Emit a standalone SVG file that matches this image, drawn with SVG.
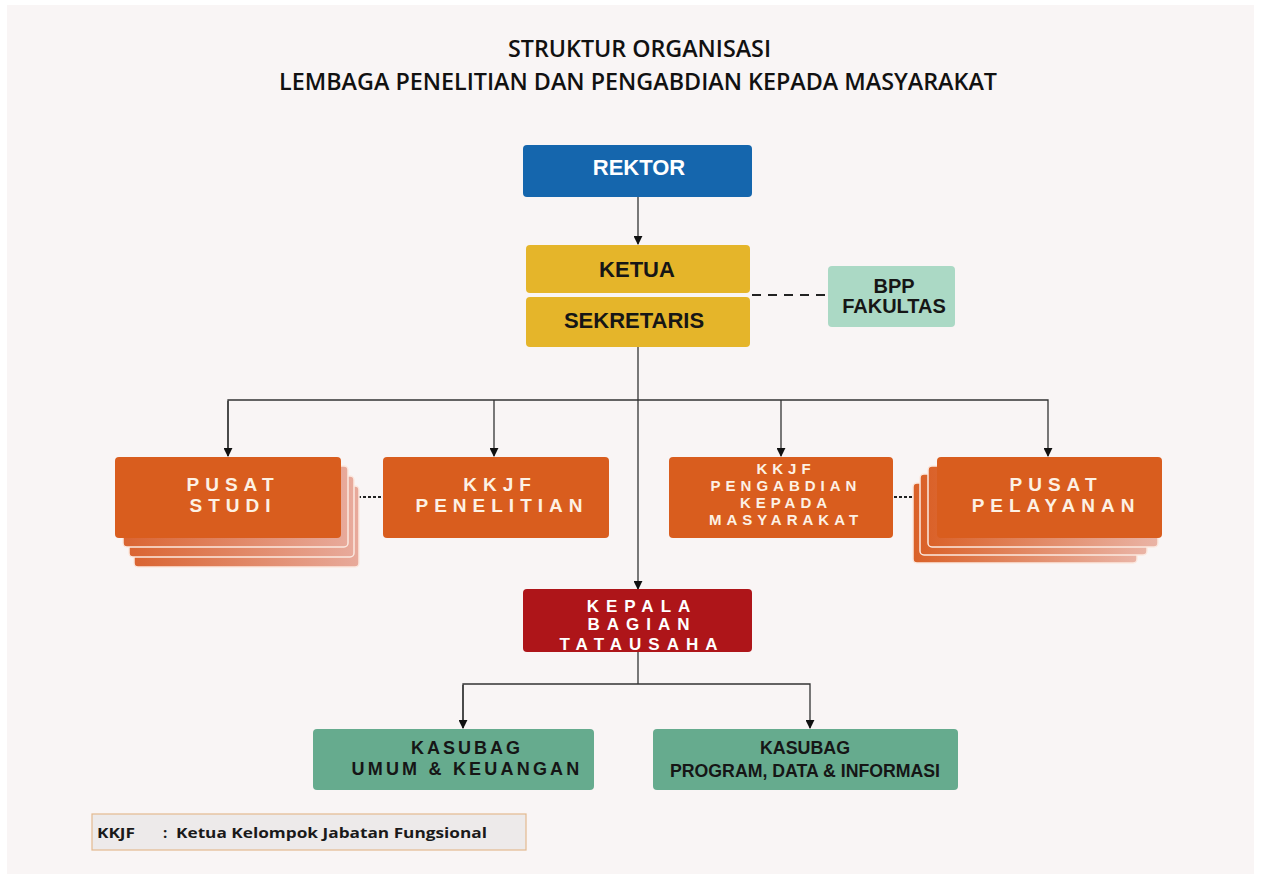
<svg xmlns="http://www.w3.org/2000/svg" width="1261" height="879" viewBox="0 0 1261 879">
  <defs>
    <style>
      .title { font-family: "Open Sans", "Liberation Sans", sans-serif; font-weight: 600; font-size: 23px; fill: #111; }
      .box-blue { fill: #1566ad; }
      .box-gold { fill: #e5b52a; }
      .box-mint { fill: #abd9c5; }
      .box-orange { fill: #d95d1e; }
      .box-red { fill: #ae1519; }
      .box-green { fill: #66ab8e; }
      .lbl { font-family: "Liberation Sans", Arial, sans-serif; font-weight: bold; text-anchor: middle; }
      .lbl-light { fill: #fdf1e4; }
      .lbl-white { fill: #ffffff; }
      .lbl-dark { fill: #161616; }
      .spaced { letter-spacing: 6px; }
      .conn { fill: none; stroke: #333; stroke-width: 1.3; }
      .dash { fill: none; stroke: #222; stroke-width: 2; stroke-dasharray: 9 7; }
      .dot { fill: none; stroke: #222; stroke-width: 2; stroke-dasharray: 3 2; }
      .layer { stroke: #fbe9e0; stroke-width: 1.5; }
      .legend { font-family: "Open Sans", "Liberation Sans", sans-serif; font-weight: bold; font-size: 15px; fill: #1a1a1a; }
    </style>
    <marker id="arrow" viewBox="0 0 10 10" refX="9" refY="5" markerWidth="9" markerHeight="9" markerUnits="userSpaceOnUse" orient="auto">
      <path d="M0,0 L10,5 L0,10 z" fill="#111"/>
    </marker>
    <linearGradient id="stackL" x1="0" y1="0" x2="1" y2="0">
      <stop offset="0" stop-color="#da6431"/>
      <stop offset="1" stop-color="#e8aa9b"/>
    </linearGradient>
    <linearGradient id="stackR" x1="0" y1="0" x2="1" y2="0">
      <stop offset="0" stop-color="#da6128"/>
      <stop offset="1" stop-color="#eab4a6"/>
    </linearGradient>
  </defs>

  <!-- page -->
  <rect x="0" y="0" width="1261" height="879" fill="#ffffff"/>
  <rect x="7" y="5" width="1247" height="869" fill="#f9f5f5"/>

  <!-- heading -->
  <text class="title" x="639.5" y="57" text-anchor="middle" textLength="263" lengthAdjust="spacingAndGlyphs">STRUKTUR ORGANISASI</text>
  <text class="title" x="638" y="90" text-anchor="middle" textLength="718" lengthAdjust="spacingAndGlyphs">LEMBAGA PENELITIAN DAN PENGABDIAN KEPADA MASYARAKAT</text>

  <!-- connectors -->
  <g id="connectors">
    <line class="conn" x1="638" y1="197" x2="638" y2="244" marker-end="url(#arrow)"/>
    <line class="dash" x1="752" y1="295" x2="827" y2="295"/>
    <line class="conn" x1="638" y1="347" x2="638" y2="589" marker-end="url(#arrow)"/>
    <polyline class="conn" points="228,456 228,400 1048,400 1048,456" marker-end="url(#arrow)"/>
    <line class="conn" x1="228" y1="401" x2="228" y2="456" marker-end="url(#arrow)"/>
    <line class="conn" x1="494" y1="400" x2="494" y2="456" marker-end="url(#arrow)"/>
    <line class="conn" x1="781" y1="400" x2="781" y2="456" marker-end="url(#arrow)"/>
    <line class="dot" x1="343" y1="497" x2="383" y2="497"/>
    <line class="dot" x1="894" y1="497" x2="937" y2="497"/>
    <line class="conn" x1="638" y1="652" x2="638" y2="684"/>
    <polyline class="conn" points="463,728 463,684 810,684 810,728" marker-end="url(#arrow)"/>
    <line class="conn" x1="463" y1="685" x2="463" y2="728" marker-end="url(#arrow)"/>
  </g>

  <!-- REKTOR -->
  <g id="rektor">
    <rect class="box-blue" x="523" y="145" width="229" height="52" rx="4"/>
    <text class="lbl lbl-white" x="639" y="175" font-size="22">REKTOR</text>
  </g>

  <!-- KETUA -->
  <g id="ketua">
    <rect class="box-gold" x="526" y="245" width="224" height="48" rx="4"/>
    <text class="lbl lbl-dark" x="637" y="277" font-size="22">KETUA</text>
  </g>

  <!-- SEKRETARIS -->
  <g id="sekretaris">
    <rect class="box-gold" x="526" y="297" width="224" height="50" rx="4"/>
    <text class="lbl lbl-dark" x="634" y="328" font-size="22">SEKRETARIS</text>
  </g>

  <!-- BPP FAKULTAS -->
  <g id="bpp-fakultas">
    <rect class="box-mint" x="828" y="266" width="127" height="61" rx="4"/>
    <text class="lbl lbl-dark" x="894" y="293" font-size="20">BPP</text>
    <text class="lbl lbl-dark" x="894" y="313" font-size="20">FAKULTAS</text>
  </g>

  <!-- PUSAT STUDI (stacked) -->
  <g id="pusat-studi">
    <rect class="layer" x="134" y="486" width="225" height="81" rx="4" fill="url(#stackL)"/>
    <rect class="layer" x="129" y="476" width="225" height="81" rx="4" fill="url(#stackL)"/>
    <rect class="layer" x="123" y="466" width="225" height="81" rx="4" fill="url(#stackL)"/>
    <rect class="box-orange" x="115" y="457" width="226" height="81" rx="4"/>
    <text class="lbl lbl-light spaced" x="233" y="491" font-size="19">PUSAT</text>
    <text class="lbl lbl-light spaced" x="233" y="512" font-size="19">STUDI</text>
  </g>

  <!-- KKJF PENELITIAN -->
  <g id="kkjf-penelitian">
    <rect class="box-orange" x="383" y="457" width="226" height="81" rx="4"/>
    <text class="lbl lbl-light spaced" x="500" y="491" font-size="19">KKJF</text>
    <text class="lbl lbl-light spaced" x="502" y="512" font-size="19">PENELITIAN</text>
  </g>

  <!-- KKJF PENGABDIAN KEPADA MASYARAKAT -->
  <g id="kkjf-pengabdian">
    <rect class="box-orange" x="669" y="457" width="224" height="81" rx="4"/>
    <text class="lbl lbl-light" x="786" y="474" font-size="15" letter-spacing="5">KKJF</text>
    <text class="lbl lbl-light" x="786" y="491" font-size="15" letter-spacing="5">PENGABDIAN</text>
    <text class="lbl lbl-light" x="786" y="508" font-size="15" letter-spacing="5">KEPADA</text>
    <text class="lbl lbl-light" x="786" y="525" font-size="15" letter-spacing="5">MASYARAKAT</text>
  </g>

  <!-- PUSAT PELAYANAN (stacked) -->
  <g id="pusat-pelayanan">
    <rect class="layer" x="913" y="483" width="224" height="80" rx="4" fill="url(#stackR)"/>
    <rect class="layer" x="920" y="474" width="227" height="81" rx="4" fill="url(#stackR)"/>
    <rect class="layer" x="928" y="466" width="230" height="81" rx="4" fill="url(#stackR)"/>
    <rect class="box-orange" x="937" y="457" width="225" height="81" rx="4"/>
    <text class="lbl lbl-light spaced" x="1056" y="491" font-size="19">PUSAT</text>
    <text class="lbl lbl-light spaced" x="1056" y="512" font-size="19">PELAYANAN</text>
  </g>

  <!-- KEPALA BAGIAN TATAUSAHA -->
  <g id="kepala-tatausaha">
    <rect class="box-red" x="523" y="589" width="229" height="63" rx="4"/>
    <text class="lbl lbl-white" x="642" y="612" font-size="17" letter-spacing="7">KEPALA</text>
    <text class="lbl lbl-white" x="642" y="630" font-size="17" letter-spacing="7">BAGIAN</text>
    <text class="lbl lbl-white" x="642" y="650" font-size="17" letter-spacing="7">TATAUSAHA</text>
  </g>

  <!-- KASUBAG UMUM & KEUANGAN -->
  <g id="kasubag-umum">
    <rect class="box-green" x="313" y="729" width="281" height="61" rx="4"/>
    <text class="lbl lbl-dark" x="467" y="754" font-size="18" letter-spacing="3">KASUBAG</text>
    <text class="lbl lbl-dark" x="467" y="775" font-size="18" letter-spacing="3.2">UMUM &amp; KEUANGAN</text>
  </g>

  <!-- KASUBAG PROGRAM, DATA & INFORMASI -->
  <g id="kasubag-program">
    <rect class="box-green" x="653" y="729" width="305" height="61" rx="4"/>
    <text class="lbl lbl-dark" x="805" y="754" font-size="18" textLength="90" lengthAdjust="spacingAndGlyphs">KASUBAG</text>
    <text class="lbl lbl-dark" x="805" y="777" font-size="18" textLength="270" lengthAdjust="spacingAndGlyphs">PROGRAM, DATA &amp; INFORMASI</text>
  </g>

  <!-- legend -->
  <g id="legend">
    <rect x="92" y="814" width="434" height="36" fill="#edeaea" stroke="#e3b98f" stroke-width="1.2"/>
    <text class="legend" x="97" y="838" textLength="38" lengthAdjust="spacingAndGlyphs">KKJF</text>
    <text class="legend" x="163" y="838">:</text>
    <text class="legend" x="176" y="838" textLength="311" lengthAdjust="spacingAndGlyphs">Ketua Kelompok Jabatan Fungsional</text>
  </g>
</svg>
